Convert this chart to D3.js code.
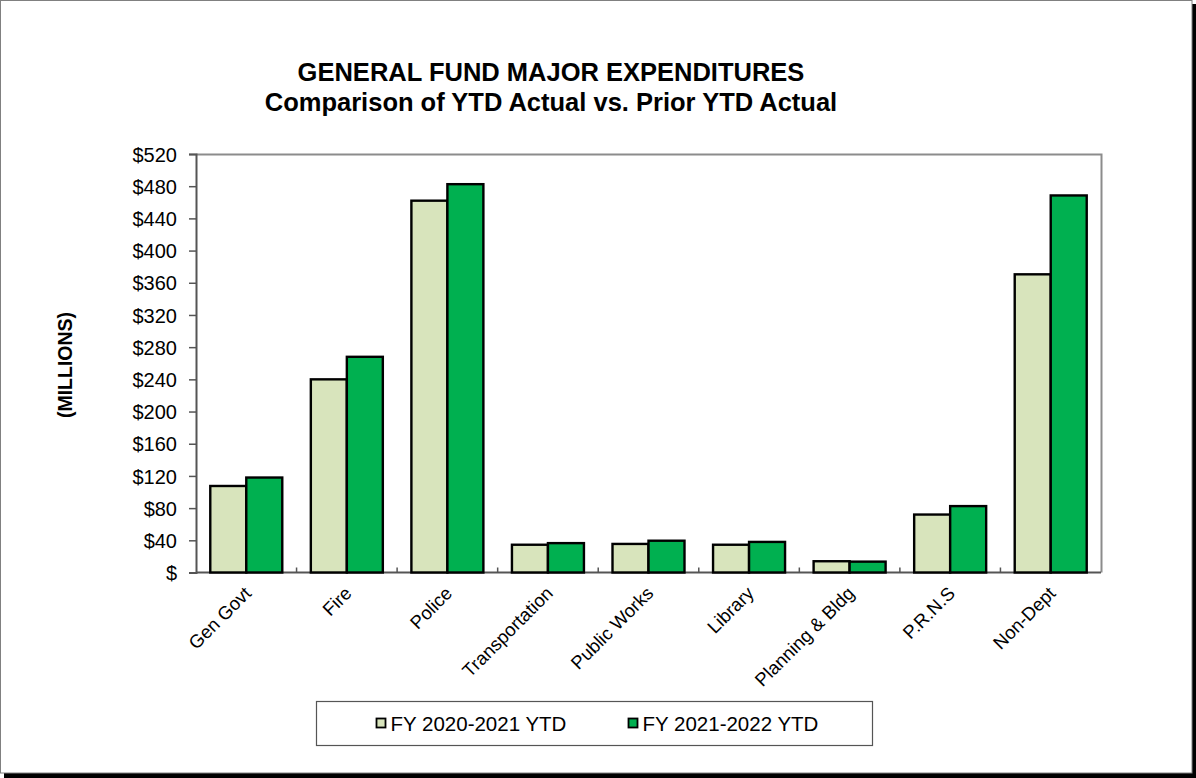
<!DOCTYPE html>
<html>
<head>
<meta charset="utf-8">
<script src="https://cdn.jsdelivr.net/npm/d3@7"></script>
<style>
    body { margin: 0; background: #fff; }
    svg text { font-family: "Liberation Sans", Arial, sans-serif; fill: #000; }
</style>
</head>
<body>
<div id="chart"></div>
<script>
// values in $ millions
var categories = ["Gen Govt", "Fire", "Police", "Transportation", "Public Works",
    "Library", "Planning & Bldg", "P.R.N.S", "Non-Dept"];
var seriesNames = ["FY 2020-2021 YTD", "FY 2021-2022 YTD"];
var priorYtd = [107.5, 240, 462, 34.5, 35.5, 34.5, 14, 72, 370.5];
var currentYtd = [118, 268, 482.5, 36.5, 39.5, 38, 13.5, 82.5, 468.5];
var yTicks = [0, 40, 80, 120, 160, 200, 240, 280, 320, 360, 400, 440, 480, 520];
var seriesColors = ["#D8E4BC", "#00B050"];

var width = 1196, height = 778;
var margin = { top: 154, right: 95, bottom: 205.5, left: 196 };

var svg = d3.select('#chart').append('svg')
    .attr('width', width)
    .attr('height', height);

// page frame with a dark drop shadow on right/bottom
svg.append('rect')
    .attr('x', 1192).attr('y', 4).attr('width', 4).attr('height', height - 4)
    .attr('fill', '#000');
svg.append('rect')
    .attr('x', 4).attr('y', 773).attr('width', width - 4).attr('height', 5)
    .attr('fill', '#000');
svg.append('rect')
    .attr('x', 0.5).attr('y', 0.5).attr('width', 1191.5).attr('height', 772.5)
    .attr('fill', 'none')
    .attr('stroke', '#808080')
    .attr('stroke-width', 1);

// titles
svg.append('text')
    .attr('x', 551).attr('y', 81)
    .attr('text-anchor', 'middle')
    .style('font-size', '25.5px').style('font-weight', 'bold')
    .text('GENERAL FUND MAJOR EXPENDITURES');
svg.append('text')
    .attr('x', 551).attr('y', 111)
    .attr('text-anchor', 'middle')
    .style('font-size', '25.5px').style('font-weight', 'bold')
    .text('Comparison of YTD Actual vs. Prior YTD Actual');

var plotW = width - margin.left - margin.right;
var plotH = height - margin.top - margin.bottom;

var x0 = d3.scaleBand()
    .domain(categories)
    .range([0, plotW])
    .paddingInner(0.284)
    .paddingOuter(0.142);

var x1 = d3.scaleBand()
    .domain([0, 1])
    .range([0, x0.bandwidth()]);

var y = d3.scaleLinear()
    .domain([0, 520])
    .range([plotH, 0]);

var g = svg.append('g')
    .attr('transform', 'translate(' + margin.left + ',' + margin.top + ')');

// top and right plot border
g.append('path')
    .attr('d', 'M0,0.5H' + (plotW + 0.5) + 'V' + plotH)
    .attr('fill', 'none')
    .attr('stroke', '#8c8c8c')
    .attr('stroke-width', 2);

var yAxis = d3.axisLeft(y)
    .tickValues(yTicks)
    .tickSize(7)
    .tickPadding(12)
    .tickFormat(function(d) { return d === 0 ? '$' : '$' + d; });

var yGuide = g.append('g')
    .attr('class', 'y-axis')
    .call(yAxis);
yGuide.select('.domain').attr('stroke', '#555').attr('stroke-width', 2);
yGuide.selectAll('.tick line').attr('stroke', '#555').attr('stroke-width', 1.5);
yGuide.selectAll('.tick text')
    .style('font-size', '20px')
    .attr('dy', '0.36em');

// baseline and category boundary ticks
g.append('line')
    .attr('x1', 0).attr('x2', plotW)
    .attr('y1', plotH).attr('y2', plotH)
    .attr('stroke', '#555').attr('stroke-width', 2);
var step = x0.step();
g.selectAll('.xtick')
    .data(categories.slice(1))
    .enter().append('line')
    .attr('class', 'xtick')
    .attr('x1', function(d) { return x0(d) - x0.paddingOuter() * step; })
    .attr('x2', function(d) { return x0(d) - x0.paddingOuter() * step; })
    .attr('y1', plotH).attr('y2', plotH - 5)
    .attr('stroke', '#555').attr('stroke-width', 1.5);

// bars
var seriesData = [priorYtd, currentYtd];
var groups = g.selectAll('.group')
    .data(categories)
    .enter().append('g')
    .attr('class', 'group')
    .attr('transform', function(d) { return 'translate(' + x0(d) + ',0)'; });

groups.selectAll('rect')
    .data(function(d, i) {
        return seriesData.map(function(s, k) { return { key: k, value: s[i] }; });
    })
    .enter().append('rect')
    .attr('x', function(d) { return x1(d.key); })
    .attr('y', function(d) { return y(d.value); })
    .attr('width', x1.bandwidth())
    .attr('height', function(d) { return plotH - y(d.value); })
    .attr('fill', function(d) { return seriesColors[d.key]; })
    .attr('stroke', '#000')
    .attr('stroke-width', 2.4);

// rotated category labels
g.selectAll('.xlabel')
    .data(categories)
    .enter().append('text')
    .attr('class', 'xlabel')
    .attr('text-anchor', 'end')
    .style('font-size', '18.5px')
    .attr('transform', function(d) {
        return 'translate(' + (x0(d) + x0.bandwidth() / 2 + 6) + ',' + (plotH + 22) + ') rotate(-45)';
    })
    .text(function(d) { return d; });

// y axis title
svg.append('text')
    .attr('transform', 'translate(72,365) rotate(-90)')
    .attr('text-anchor', 'middle')
    .style('font-size', '19.5px').style('font-weight', 'bold')
    .text('(MILLIONS)');

// legend
var legend = svg.append('g').attr('transform', 'translate(316.5,701.5)');
legend.append('rect')
    .attr('width', 556).attr('height', 44)
    .attr('fill', '#fff')
    .attr('stroke', '#555').attr('stroke-width', 1.2);
var legendX = [60, 312];
var items = legend.selectAll('.item')
    .data(seriesNames)
    .enter().append('g')
    .attr('class', 'item')
    .attr('transform', function(d, i) { return 'translate(' + legendX[i] + ',0)'; });
items.append('rect')
    .attr('x', 0).attr('y', 17)
    .attr('width', 9).attr('height', 9)
    .attr('fill', function(d, i) { return seriesColors[i]; })
    .attr('stroke', '#000').attr('stroke-width', 1.8);
items.append('text')
    .attr('x', 14).attr('y', 29)
    .style('font-size', '20.5px')
    .text(function(d) { return d; });
</script>
</body>
</html>
